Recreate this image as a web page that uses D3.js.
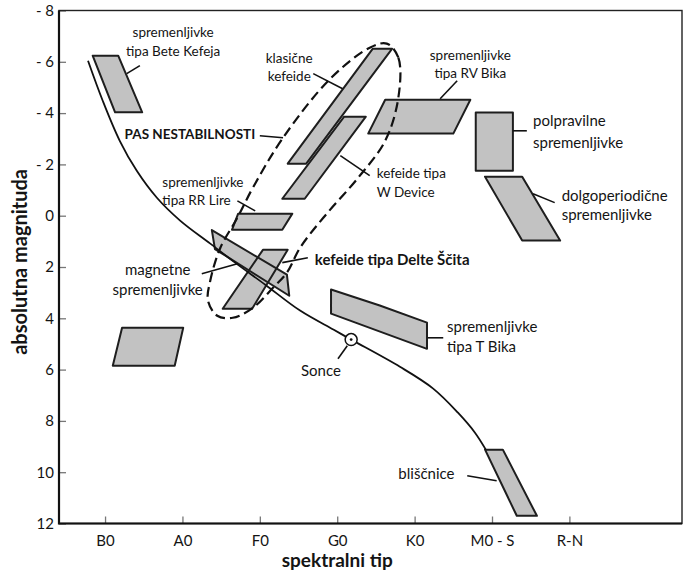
<!DOCTYPE html>
<html><head><meta charset="utf-8">
<script src="https://cdn.jsdelivr.net/npm/d3@7/dist/d3.min.js"></script>
<style>
body{margin:0;background:#fff}
svg{display:block}
text{font-family:Lato,"Open Sans",sans-serif;fill:#141414}
</style>
</head><body>
<svg id="chart" width="688" height="573"></svg>
<script>
// ---------- data ----------
const spectralTypes = ["B0", "A0", "F0", "G0", "K0", "M0 - S", "R-N"];
const magnitudeTicks = [-8, -6, -4, -2, 0, 2, 4, 6, 8, 10, 12];

// main sequence [spectral index, absolute magnitude]
const mainSequence = [[-0.22,-6.04],[-0.03,-4.48],[0.19,-2.92],[0.41,-1.75],[0.67,-0.70],[0.97,0.19],
  [1.36,1.09],[1.68,1.83],[2.07,2.69],[2.52,3.70],[2.95,4.44],[3.18,4.83],[3.81,5.89],[4.24,6.74],
  [4.56,7.68],[4.78,8.46],[4.92,9.12]];
const sun = [3.18, 4.83];

// instability strip outline
const instabilityStrip = [[3.64,-6.71],[3.79,-6.16],[3.79,-4.60],[3.62,-2.92],[3.27,-1.48],[2.82,0.08],
  [2.52,1.25],[2.35,2.22],[2.17,2.81],[1.91,3.59],[1.65,3.98],[1.45,3.90],[1.33,3.31],[1.36,2.53],
  [1.49,1.25],[1.71,0.08],[1.91,-1.09],[2.30,-3.04],[2.91,-5.34],[3.42,-6.55]];

// variable star regions
const betaCephei   = [[-0.16,-6.24],[0.17,-6.24],[0.48,-4.03],[0.13,-4.03]];
const classicalCep = [[2.36,-2.03],[2.60,-2.03],[3.71,-6.51],[3.46,-6.51]];
const wVirginis    = [[2.29,-0.66],[2.58,-0.66],[3.37,-3.86],[3.09,-3.86]];
const rrLyrae      = [[1.72,-0.08],[2.42,-0.08],[2.29,0.55],[1.64,0.55]];
const magnetic     = [[1.38,0.56],[2.35,2.30],[2.38,3.12],[1.42,1.30]];
const deltaScuti   = [[2.04,1.33],[2.36,1.33],[1.90,3.63],[1.52,3.63]];
const rvTauri      = [[3.62,-4.52],[4.72,-4.52],[4.50,-3.20],[3.40,-3.20]];
const semiregular  = [[4.79,-4.02],[5.27,-4.02],[5.27,-1.75],[4.79,-1.75]];
const longPeriod   = [[4.91,-1.52],[5.39,-1.52],[5.88,0.97],[5.39,0.97]];
const tTauri       = [[2.92,2.88],[3.55,3.50],[4.16,4.17],[4.16,5.19],[2.92,3.82]];
const flareStars   = [[4.91,9.12],[5.14,9.12],[5.58,11.70],[5.32,11.70]];
const unnamedBox   = [[0.22,4.37],[1.01,4.37],[0.90,5.85],[0.10,5.85]];
const regions = [betaCephei, classicalCep, wVirginis, rrLyrae, magnetic, deltaScuti,
                 rvTauri, semiregular, longPeriod, tTauri, flareStars, unnamedBox];

// leader lines [from, to]
const leaders = [
  [[0.28,-5.54],[0.45,-5.85]],
  [[2.69,-5.54],[3.07,-4.95]],
  [[2.00,-3.12],[2.30,-3.04]],
  [[4.33,-4.56],[4.55,-5.26]],
  [[5.27,-3.31],[5.45,-3.31]],
  [[3.04,-2.34],[3.42,-1.56]],
  [[5.53,-0.86],[5.81,-0.51]],
  [[1.71,-0.58],[1.94,-0.19]],
  [[2.29,1.83],[2.62,1.64]],
  [[1.25,2.26],[1.71,1.87]],
  [[4.17,4.76],[4.37,4.76]],
  [[3.13,5.07],[3.01,5.58]],
  [[4.68,10.14],[5.06,10.33]]
];

// labels: lines, anchor point (first line centre)
const labelTexts = [
  ["spremenljivke", "tipa Bete Kefeja"],
  ["klasične", "kefeide"],
  ["PAS NESTABILNOSTI"],
  ["spremenljivke", "tipa RV Bika"],
  ["polpravilne", "spremenljivke"],
  ["kefeide tipa", "W Device"],
  ["dolgoperiodične", "spremenljivke"],
  ["spremenljivke", "tipa RR Lire"],
  ["kefeide tipa Delte Ščita"],
  ["magnetne", "spremenljivke"],
  ["spremenljivke", "tipa T Bika"],
  ["Sonce"],
  ["bliščnice"]
];
const labelAnchors = [[0.88,-7.17],[2.38,-6.16],[1.94,-3.20],[4.72,-6.28],[5.53,-3.74],[3.51,-1.68],
  [5.90,-0.82],[0.74,-1.33],[2.71,1.68],[0.68,2.07],[4.42,4.29],[2.79,6.00],[3.79,10.02]];
const labelStyle = [
  {a:"middle", s:13.5, lh:19}, {a:"middle", s:13.5, lh:18}, {a:"end", s:13.5, b:1},
  {a:"middle", s:13.5, lh:18}, {a:"start", s:15, lh:22}, {a:"start", s:13.5, lh:19},
  {a:"start", s:15, lh:19}, {a:"start", s:13.5, lh:18}, {a:"start", s:15, b:1},
  {a:"middle", s:15, lh:20}, {a:"start", s:15, lh:20}, {a:"middle", s:15}, {a:"start", s:15}
];

// ---------- drawing ----------
const svg = d3.select("#chart");
const x = d3.scaleLinear().domain([-0.595, 7.455]).range([59, 682]);
const y = d3.scaleLinear().domain([-8, 12]).range([10.5, 523.5]);

const poly = d3.line().x(d => x(d[0])).y(d => y(d[1])).curve(d3.curveLinearClosed);

// axes
const xAxis = d3.axisBottom(x).tickValues(d3.range(spectralTypes.length))
  .tickFormat(i => spectralTypes[i]).tickSize(-7).tickPadding(12);
const yAxis = d3.axisLeft(y).tickValues(magnitudeTicks)
  .tickFormat(v => v < 0 ? "- " + Math.abs(v) : String(v)).tickSize(-7).tickPadding(5);

const gx = svg.append("g").attr("transform", `translate(0,${y(12)})`).call(xAxis);
const gy = svg.append("g").attr("transform", `translate(${x(-0.595)},0)`).call(yAxis);
[gx, gy].forEach(g => {
  g.select(".domain").remove();
  g.selectAll(".tick line").attr("stroke", "#777").attr("stroke-width", 1.3);
  g.selectAll(".tick text").attr("font-size", 15).attr("fill", "#141414")
    .attr("font-family", "Lato, 'Open Sans', sans-serif");
});

// frame
svg.append("rect").attr("x", x(-0.595)).attr("y", y(-8))
  .attr("width", x(7.455) - x(-0.595)).attr("height", y(12) - y(-8))
  .attr("fill", "none").attr("stroke", "#222").attr("stroke-width", 1.4);
svg.append("path").attr("d", `M${x(-0.595)},${y(-8)}V${y(12)}H${x(7.455)}`)
  .attr("fill", "none").attr("stroke", "#111").attr("stroke-width", 2.2);

// region fills then outlines
svg.append("g").selectAll("path").data(regions).join("path")
  .attr("d", poly).attr("fill", "#c2c2c2").attr("stroke", "none");
svg.append("g").selectAll("path").data(regions).join("path")
  .attr("d", poly).attr("fill", "none").attr("stroke", "#1e1e1e")
  .attr("stroke-width", 2).attr("stroke-linejoin", "round");

// main sequence
svg.append("path").datum(mainSequence)
  .attr("d", d3.line().x(d => x(d[0])).y(d => y(d[1])).curve(d3.curveCatmullRom.alpha(0.5)))
  .attr("fill", "none").attr("stroke", "#111").attr("stroke-width", 1.8);

// instability strip
svg.append("path").datum(instabilityStrip)
  .attr("d", d3.line().x(d => x(d[0])).y(d => y(d[1])).curve(d3.curveCatmullRomClosed.alpha(0.5)))
  .attr("fill", "none").attr("stroke", "#111").attr("stroke-width", 2.2)
  .attr("stroke-dasharray", "10,5");

// leaders
svg.append("g").selectAll("line").data(leaders).join("line")
  .attr("x1", d => x(d[0][0])).attr("y1", d => y(d[0][1]))
  .attr("x2", d => x(d[1][0])).attr("y2", d => y(d[1][1]))
  .attr("stroke", "#111").attr("stroke-width", 1.6);

// sun
svg.append("circle").attr("cx", x(sun[0])).attr("cy", y(sun[1])).attr("r", 6)
  .attr("fill", "#fff").attr("stroke", "#111").attr("stroke-width", 1.5);
svg.append("circle").attr("cx", x(sun[0])).attr("cy", y(sun[1])).attr("r", 1.4).attr("fill", "#111");

// labels
labelTexts.forEach((lines, i) => {
  const st = labelStyle[i];
  const t = svg.append("text")
    .attr("x", x(labelAnchors[i][0])).attr("y", y(labelAnchors[i][1]))
    .attr("text-anchor", st.a).attr("font-size", st.s)
    .attr("font-weight", st.b ? 700 : 400).attr("dominant-baseline", "central");
  lines.forEach((ln, j) => {
    t.append("tspan").attr("x", x(labelAnchors[i][0]))
      .attr("dy", j === 0 ? 0 : (st.lh || 18)).text(ln);
  });
});

// axis titles
svg.append("text").attr("transform", `translate(19,${y(1.8)}) rotate(-90)`)
  .attr("text-anchor", "middle").attr("dominant-baseline", "central")
  .attr("font-size", 20).attr("font-weight", 700).text("absolutna magnituda");
svg.append("text").attr("x", x(3.0)).attr("y", 567)
  .attr("text-anchor", "middle").attr("font-size", 19).attr("font-weight", 700).text("spektralni tip");
</script>
</body></html>
